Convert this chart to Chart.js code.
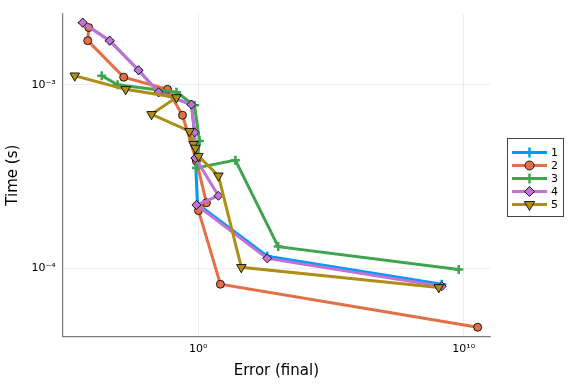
<!DOCTYPE html>
<html>
<head>
<meta charset="utf-8">
<script src="https://cdn.jsdelivr.net/npm/chart.js@4/dist/chart.umd.min.js"></script>
<style>
  html, body { margin: 0; padding: 0; background: #fff; }
  #wrap { width: 576px; height: 384px; }
</style>
</head>
<body>
<div id="wrap"><canvas id="chart" width="576" height="384"></canvas></div>
<script>
// values (error, time) per run
const err1  = [4.5e-5, 4.67e-4, 5.7e-3, 0.0323, 0.56, 0.73, 0.79, 0.94, 400, 1.49e9];
const time1 = [2.18e-3, 1.74e-3, 1.20e-3, 9.1e-4, 7.8e-4, 5.5e-4, 3.98e-4, 2.24e-4, 1.16e-4, 8.17e-5];

const err2  = [7.6e-5, 6.97e-5, 1.57e-3, 0.0703, 0.257, 0.86, 2.05, 1.03, 6.9, 3.36e10];
const time2 = [2.05e-3, 1.74e-3, 1.10e-3, 9.44e-4, 6.82e-4, 3.84e-4, 2.27e-4, 2.06e-4, 8.17e-5, 4.76e-5];

const err3  = [2.34e-4, 9.3e-4, 0.153, 0.73, 1.12, 0.86, 25.2, 1036, 6.5e9];
const time3 = [1.12e-3, 1.0e-3, 9.1e-4, 7.72e-4, 4.93e-4, 3.52e-4, 3.88e-4, 1.31e-4, 9.84e-5];

const err4  = [4.5e-5, 4.67e-4, 5.7e-3, 0.0323, 0.56, 0.73, 0.79, 5.8, 0.86, 400, 1.49e9];
const time4 = [2.18e-3, 1.74e-3, 1.20e-3, 9.1e-4, 7.8e-4, 5.5e-4, 3.98e-4, 2.48e-4, 2.21e-4, 1.13e-4, 7.96e-5];

const err5  = [2.26e-5, 1.86e-3, 0.153, 0.0176, 0.471, 0.667, 0.79, 1.03, 5.8, 42.3, 1.15e9];
const time5 = [1.12e-3, 9.44e-4, 8.53e-4, 6.90e-4, 5.58e-4, 4.74e-4, 4.52e-4, 4.08e-4, 3.19e-4, 1.01e-4, 7.85e-5];

const seriesNames = ['1', '2', '3', '4', '5'];
const xTickVals = [1, 1e10];
const xTickLabels = ['10\u2070', '10\u00b9\u2070'];
const yTickVals = [1e-4, 1e-3];
const yTickLabels = ['10\u207b\u2074', '10\u207b\u00b3'];

const colors = ['#009AFA', '#E36F47', '#3EA44E', '#C371D2', '#AC8E18'];
const markers = ['cross', 'circle', 'cross', 'rectRot', 'triangle'];
const sizes = [4.5, 4, 4.5, 4.5, 5.5];
const FONT = 'DejaVu Sans';

function pts(xs, ys) { return xs.map((x, i) => ({ x: x, y: ys[i] })); }

const allErr = [err1, err2, err3, err4, err5];
const allTime = [time1, time2, time3, time4, time5];

const datasets = allErr.map((xs, i) => {
  const cross = markers[i] === 'cross';
  return {
    label: seriesNames[i],
    data: pts(xs, allTime[i]),
    borderColor: colors[i],
    borderWidth: 3,
    pointStyle: markers[i],
    pointRotation: markers[i] === 'triangle' ? 180 : 0,
    pointRadius: sizes[i],
    pointBackgroundColor: colors[i],
    pointBorderColor: cross ? colors[i] : 'rgba(0,0,0,0.85)',
    pointBorderWidth: cross ? 2.5 : 1,
    order: 5 - i,
    tension: 0
  };
});

const legendPlugin = {
  id: 'juliaLegend',
  afterDraw(chart) {
    const ctx = chart.ctx;
    const bx = 507.5, by = 138.5, bw = 56, bh = 78;
    ctx.save();
    ctx.fillStyle = '#fff';
    ctx.fillRect(bx, by, bw, bh);
    ctx.strokeStyle = '#444';
    ctx.lineWidth = 1;
    ctx.strokeRect(bx, by, bw, bh);
    const rows = [152.5, 165.5, 178.5, 191.5, 204.5];
    datasets.forEach((ds, i) => {
      const y = rows[i];
      ctx.strokeStyle = ds.borderColor;
      ctx.lineWidth = 3;
      ctx.beginPath();
      ctx.moveTo(512, y);
      ctx.lineTo(547, y);
      ctx.stroke();
      ctx.fillStyle = ds.pointBackgroundColor;
      ctx.strokeStyle = ds.pointBorderColor;
      ctx.lineWidth = ds.pointBorderWidth;
      Chart.helpers.drawPoint(ctx, {
        pointStyle: ds.pointStyle,
        rotation: ds.pointRotation,
        radius: ds.pointRadius + 0.5,
        borderWidth: ds.pointBorderWidth
      }, 529.5, y);
      ctx.fillStyle = '#000';
      ctx.font = '11px ' + FONT;
      ctx.textAlign = 'left';
      ctx.textBaseline = 'middle';
      ctx.fillText(ds.label, 551, y + 0.5);
    });
    ctx.restore();
  }
};

new Chart(document.getElementById('chart'), {
  type: 'line',
  data: { datasets: datasets },
  plugins: [legendPlugin],
  options: {
    responsive: false,
    animation: false,
    devicePixelRatio: 1,
    layout: { padding: { top: 11.7, right: 86, left: 0, bottom: 0 } },
    plugins: { legend: { display: false }, tooltip: { enabled: false } },
    scales: {
      x: {
        type: 'logarithmic',
        min: Math.pow(10, -5.10),
        max: Math.pow(10, 10.99),
        afterBuildTicks: s => { s.ticks = xTickVals.map(v => ({ value: v })); },
        afterFit: s => { s.height = 47.3; },
        grid: { color: 'rgba(0,0,0,0.1)', lineWidth: 0.7, drawTicks: false },
        border: { color: '#7a7a7a', width: 1.2 },
        ticks: {
          autoSkip: false, maxRotation: 0, padding: 6,
          color: '#000', font: { family: FONT, size: 11 },
          callback: (v, i) => xTickLabels[i]
        },
        title: {
          display: true, text: 'Error (final)', color: '#000',
          font: { family: FONT, size: 15 }, padding: { top: 0, bottom: 4 }
        }
      },
      y: {
        type: 'logarithmic',
        min: Math.pow(10, -4.374),
        max: Math.pow(10, -2.612),
        afterBuildTicks: s => { s.ticks = yTickVals.map(v => ({ value: v })); },
        afterFit: s => { s.width = 62.7; },
        grid: { color: 'rgba(0,0,0,0.1)', lineWidth: 0.7, drawTicks: false },
        border: { color: '#7a7a7a', width: 1.2 },
        ticks: {
          autoSkip: false, padding: 7,
          color: '#000', font: { family: FONT, size: 11 },
          callback: (v, i) => yTickLabels[i]
        },
        title: {
          display: true, text: 'Time (s)', color: '#000',
          font: { family: FONT, size: 15 }, padding: { top: 4, bottom: 0 }
        }
      }
    }
  }
});
</script>
</body>
</html>
